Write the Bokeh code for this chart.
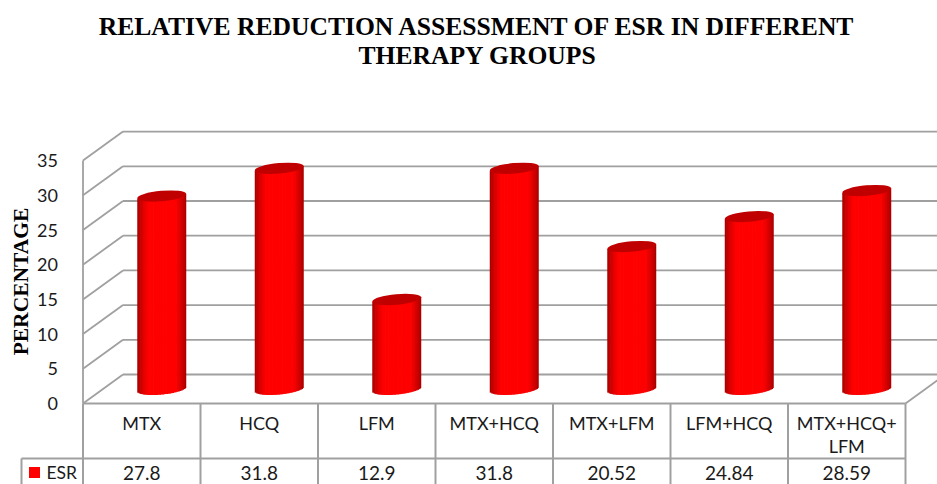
from bokeh.plotting import figure
from bokeh.models import Range1d, LinearAxis, FixedTicker
from bokeh.core.properties import value
from bokeh.embed import file_html
from bokeh.resources import INLINE

title_lines = ["RELATIVE REDUCTION ASSESSMENT OF ESR IN DIFFERENT", "THERAPY GROUPS"]
y_title = "PERCENTAGE"
categories = ["MTX", "HCQ", "LFM", "MTX+HCQ", "MTX+LFM", "LFM+HCQ", "MTX+HCQ+\nLFM"]
esr = [27.8, 31.8, 12.9, 31.8, 20.52, 24.84, 28.59]
esr_labels = ["27.8", "31.8", "12.9", "31.8", "20.52", "24.84", "28.59"]
y_ticks = [0, 5, 10, 15, 20, 25, 30, 35]
series_name = "ESR"

W, H = 937, 484
PX = 117.5   # pixels per category
PY = 6.94    # pixels per percent
X0, Y0 = 82.5, 403      # picture position of the front origin
DX, DY = 40 / PX, 29 / PY   # wall depth in data units
GRID = "#a0a0a0"
RED = "#ff0000"
INK = "#1a1a1a"
SANS = value("Lato")
SERIF = value("Liberation Serif")

p = figure(width=W, height=H, output_backend="svg", toolbar_location=None,
           x_axis_type=None, y_axis_type=None, min_border=0,
           x_range=Range1d(-X0 / PX, (W - X0) / PX),
           y_range=Range1d((Y0 - H) / PY, Y0 / PY))
p.outline_line_color = None
p.grid.visible = False

n = len(categories)
top = y_ticks[-1]

# back wall, side wall, floor
p.segment([DX] * len(y_ticks), [v + DY for v in y_ticks], [n + DX] * len(y_ticks), [v + DY for v in y_ticks],
          line_color=GRID, line_width=1.8)
p.segment([0] * len(y_ticks), y_ticks, [DX] * len(y_ticks), [v + DY for v in y_ticks],
          line_color=GRID, line_width=1.8)
p.segment([0], [0], [0], [top], line_color=GRID, line_width=1.8)
p.segment([n], [0], [n + DX], [DY], line_color=GRID, line_width=1.8)

# table
row1 = -(458 - Y0) / PY
row2 = (Y0 - H) / PY
left = -(X0 - 21) / PX
p.segment([0], [0], [n], [0], line_color=GRID, line_width=2)
p.segment([left], [row1], [n], [row1], line_color=GRID, line_width=2)
p.segment(list(range(n + 1)), [0] * (n + 1), list(range(n + 1)), [row2] * (n + 1), line_color=GRID, line_width=2)
p.segment([left], [row1], [left], [row2], line_color=GRID, line_width=2)

# cylinders from thin slices
SL = 34
a = 24.5 / PX
b = 5.5 / PY
tilt = 2.4 / PY
lefts, rights, tops, bottoms, colors = [], [], [], [], []
for i, v in enumerate(esr):
    cx = i + 0.5 + DX / 2
    base = DY / 2
    for k in range(SL):
        t0 = -1 + 2 * k / SL
        t1 = -1 + 2 * (k + 1) / SL
        t = (t0 + t1) / 2
        lefts.append(cx + a * t0)
        rights.append(cx + a * min(t1 + 0.03, 1))
        tops.append(base + v + tilt * t)
        bottoms.append(base - b * (1 - t * t) ** 0.5 + tilt * t)
        s = min(1, (1 - abs(t)) / 0.45)
        g = 0.62 + 0.38 * s ** 0.7
        colors.append("#%02x0000" % int(255 * g))
p.quad(left=lefts, right=rights, top=tops, bottom=bottoms, fill_color=colors, line_color=None)
p.ellipse([i + 0.5 + DX / 2 for i in range(n)], [DY / 2 + v for v in esr],
          width=49, height=10.5, width_units="screen", height_units="screen", angle=0.09,
          fill_color="#c00000", line_color=None)

# y axis labels
axis = LinearAxis(fixed_location=0, ticker=FixedTicker(ticks=y_ticks))
axis.axis_line_color = None
axis.major_tick_line_color = None
axis.minor_tick_line_color = None
axis.major_label_standoff = 19
axis.major_label_text_font = "Lato"
axis.major_label_text_font_size = "18px"
axis.major_label_text_color = INK
p.add_layout(axis, "left")

# table text
for i, c in enumerate(categories):
    parts = c.split("\n")
    ys = [-(422 - Y0) / PY, -(445 - Y0) / PY]
    for j, part in enumerate(parts):
        p.text([i + 0.5], [ys[j]], text=[part], text_font=SANS, text_font_size="18px", text_color=INK,
               text_align="center", text_baseline="middle")
p.text([i + 0.5 for i in range(n)], [-(472 - Y0) / PY] * n, text=esr_labels, text_font=SANS, text_font_size="19px",
       text_color=INK, text_align="center", text_baseline="middle")
p.scatter([-(X0 - 34) / PX], [-(472 - Y0) / PY], marker="square", size=11, fill_color=RED, line_color=None)
p.text([-(X0 - 46) / PX], [-(472 - Y0) / PY], text=[series_name], text_font=SANS, text_font_size="17.5px",
       text_color=INK, text_align="left", text_baseline="middle")

# titles
for line, py in zip(title_lines, (26, 55)):
    p.text([(477 - X0) / PX], [(Y0 - py) / PY], text=[line], text_font=SERIF, text_font_size="25.6px",
           text_font_style="bold", text_color="#000000", text_align="center", text_baseline="middle")
p.text([(20.5 - X0) / PX], [(Y0 - 281) / PY], text=[y_title], text_font=SERIF, text_font_size="21.5px",
       text_font_style="bold", text_color="#000000", text_align="center", text_baseline="middle", angle=1.5708)

open("out.html", "w").write(file_html(p, INLINE))
